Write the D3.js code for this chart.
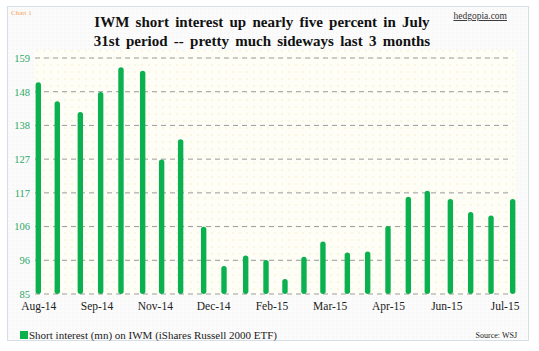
<!DOCTYPE html>
<html>
<head>
<meta charset="utf-8">
<script src="https://cdn.jsdelivr.net/npm/d3@7"></script>
<style>
  body { margin: 0; background: #fff; }
  text { font-family: "Liberation Serif", "Times New Roman", serif; }
</style>
</head>
<body>
<div id="wrapper"></div>
<script>
// settlement dates (bi-monthly short interest)
const dates = ["2014-08-15","2014-08-29","2014-09-15","2014-09-30","2014-10-15","2014-10-31",
  "2014-11-14","2014-11-28","2014-12-15","2014-12-30","2015-01-15","2015-01-30",
  "2015-02-13","2015-02-27","2015-03-13","2015-03-31","2015-04-15","2015-04-30",
  "2015-05-15","2015-05-29","2015-06-15","2015-06-30","2015-07-15","2015-07-31"];
// short interest, millions of shares
const shortInterest = [151.4,145.4,142.1,148.3,156.1,155.0,127.2,133.5,106.1,93.8,97.1,95.7,
  89.7,96.7,101.5,98.0,98.3,106.3,115.5,117.4,114.8,110.7,109.6,114.8];
// excel-style date axis, one tick every 43 days
const tickDates = ["2014-08-15","2014-09-27","2014-11-09","2014-12-22","2015-02-03",
  "2015-03-18","2015-04-30","2015-06-12","2015-07-25"];
const yTicks = [85,95.57,106.14,116.71,127.29,137.86,148.43,159];

const parse = d3.timeParse("%Y-%m-%d");
const data = dates.map((d,i) => ({date: parse(d), value: shortInterest[i]}));

const width = 539, height = 351;
const svg = d3.select("#wrapper").append("svg")
  .attr("width", width).attr("height", height);

const defs = svg.append("defs");
const dots = defs.append("pattern").attr("id","dots")
  .attr("width",7).attr("height",7).attr("patternUnits","userSpaceOnUse");
dots.append("rect").attr("width",7).attr("height",7).attr("fill","#fefef6");
dots.append("circle").attr("cx",2).attr("cy",2).attr("r",0.7).attr("fill","#ecebc0");
const hatch = defs.append("pattern").attr("id","hatch")
  .attr("width",4).attr("height",4).attr("patternUnits","userSpaceOnUse");
hatch.append("rect").attr("width",4).attr("height",4).attr("fill","#fbfbfb");
hatch.append("circle").attr("cx",1).attr("cy",1).attr("r",0.6).attr("fill","#eeeeee");

// outer frame
svg.append("rect").attr("x",7.5).attr("y",6.5).attr("width",521).attr("height",334)
  .attr("fill","url(#hatch)").attr("stroke","#d6dee8");

const x = d3.scaleTime()
  .domain([parse("2014-08-15"), parse("2015-07-31")])
  .range([38.3, 512.7]);
const y = d3.scaleLinear().domain([85,159]).range([294,58]);

svg.append("rect").attr("x",34).attr("y",50).attr("width",482).attr("height",245)
  .attr("fill","url(#dots)");

// gridlines
svg.append("g").selectAll("line").data(yTicks).join("line")
  .attr("x1",35).attr("x2",512)
  .attr("y1",d => y(d)).attr("y2",d => y(d))
  .attr("stroke","#9a9a9a").attr("stroke-width",1)
  .attr("stroke-dasharray","5,4");

// y axis labels
const yAxis = svg.append("g").attr("transform","translate(30,0)")
  .call(d3.axisLeft(y).tickValues(yTicks).tickSize(0).tickPadding(0)
    .tickFormat(d3.format(".0f")));
yAxis.select(".domain").remove();
yAxis.selectAll("text").attr("fill","#2aa866").style("font-size","10.5px")
  .style("font-family","Liberation Serif, serif");

// bars with rounded tops
const bw = 5.4;
svg.append("g").selectAll("line").data(data).join("line")
  .attr("x1",d => x(d.date)).attr("x2",d => x(d.date))
  .attr("y1",y(85) - bw/2).attr("y2",d => y(d.value) + bw/2)
  .attr("stroke","#0bb04f").attr("stroke-width",bw).attr("stroke-linecap","round");

// x axis labels
const xAxis = svg.append("g").attr("transform","translate(0,298)")
  .call(d3.axisBottom(x).tickValues(tickDates.map(parse)).tickSize(0).tickPadding(4)
    .tickFormat(d3.timeFormat("%b-%y")));
xAxis.select(".domain").remove();
xAxis.selectAll("text").attr("fill","#222").style("font-size","11.5px")
  .style("font-family","Liberation Serif, serif");

// titles
svg.append("text").attr("x",11).attr("y",15).attr("fill","#f4a15a")
  .style("font-size","7px").text("Chart 1");
const title = svg.append("text").attr("text-anchor","middle")
  .attr("fill","#111").style("font-size","15px").style("font-weight","bold");
title.append("tspan").attr("x",262).attr("y",27).attr("word-spacing","2.5px")
  .text("IWM short interest up nearly five percent in July");
title.append("tspan").attr("x",262).attr("y",46).attr("word-spacing","2.5px")
  .text("31st period -- pretty much sideways last 3 months");
svg.append("text").attr("x",507).attr("y",19).attr("text-anchor","end")
  .attr("fill","#333").style("font-size","9.5px").style("text-decoration","underline")
  .text("hedgopia.com");

// legend
svg.append("rect").attr("x",20).attr("y",331).attr("width",8).attr("height",8)
  .attr("fill","#0bb04f");
svg.append("text").attr("x",29).attr("y",339).attr("fill","#222")
  .style("font-size","10px").attr("textLength",248).attr("lengthAdjust","spacingAndGlyphs")
  .text("Short interest (mn) on IWM (iShares Russell 2000 ETF)");
svg.append("text").attr("x",517).attr("y",338).attr("text-anchor","end")
  .attr("fill","#222").style("font-size","8px").text("Source: WSJ");
</script>
</body>
</html>
